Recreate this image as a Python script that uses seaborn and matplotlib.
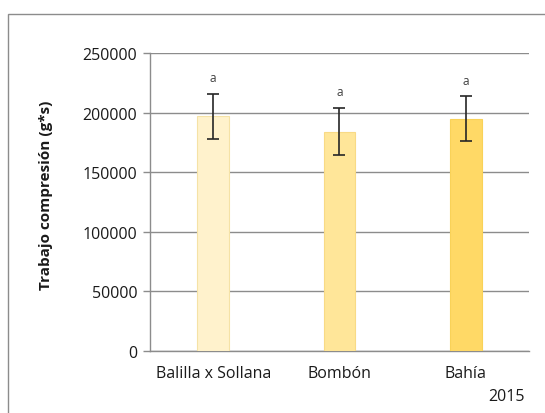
import matplotlib
matplotlib.use("Agg")
import matplotlib.pyplot as plt
import seaborn as sns
import pandas as pd
from matplotlib.patches import Rectangle

# Compression work per variety (2015)
varieties = ["Balilla x Sollana", "Bombón", "Bahía"]
work = [197000, 184000, 195000]
work_err = [19000, 20000, 18500]
letters = ["a", "a", "a"]
bar_colors = ["#FFF2CC", "#FFE699", "#FFD966"]
edge_colors = ["#F5E2A6", "#F8DA86", "#F9D258"]
y_ticks = [0, 50000, 100000, 150000, 200000, 250000]

sns.set_style("white")
plt.rcParams["font.family"] = ["Open Sans", "DejaVu Sans"]

df = pd.DataFrame({"variedad": varieties, "trabajo": work})

fig = plt.figure(figsize=(5.45, 4.14), dpi=100)
ax = fig.add_axes([0.2752, 0.1498, 0.6954, 0.7198])

sns.barplot(data=df, x="variedad", y="trabajo", hue="variedad",
            palette=bar_colors, saturation=1, width=0.25, legend=False,
            ax=ax, linewidth=0.8, zorder=3)
for patch, ec in zip(ax.patches, edge_colors):
    patch.set_edgecolor(ec)

ax.errorbar(range(len(varieties)), work, yerr=work_err, fmt="none",
            ecolor="#262626", elinewidth=1.2, capsize=4, capthick=1.2,
            zorder=4)
for i, (v, e, lab) in enumerate(zip(work, work_err, letters)):
    ax.text(i, v + e + 8000, lab, ha="center", va="bottom",
            fontsize=8.5, color="#404040")

ax.set_xlim(-0.5, 2.5)
ax.set_ylim(0, 250000)
ax.set_yticks(y_ticks)
ax.set_yticklabels([str(t) for t in y_ticks])
ax.yaxis.grid(True, color="#8c8c8c", linewidth=1, zorder=0)
ax.set_axisbelow(True)
for side in ["top", "right"]:
    ax.spines[side].set_visible(False)
for side in ["left", "bottom"]:
    ax.spines[side].set_color("#8c8c8c")
    ax.spines[side].set_linewidth(1)
ax.tick_params(axis="y", length=5, width=1, color="#8c8c8c",
               labelsize=11.5, labelcolor="#1a1a1a", pad=4, left=True)
ax.tick_params(axis="x", length=0, labelsize=11.5, labelcolor="#1a1a1a",
               pad=10)
ax.set_xlabel("")
ax.set_ylabel("Trabajo compresión (g*s)", fontsize=11, fontweight="bold",
              color="#1a1a1a")
ax.yaxis.set_label_coords(-0.256, 0.527)

fig.text(0.93, 0.022, "2015", ha="center", va="bottom", fontsize=11.5,
         color="#1a1a1a")

# chart-area frame
fig.patches.append(Rectangle((0.0147, -0.1), 1.2, 0.1 + 0.9638,
                             transform=fig.transFigure, fill=False,
                             edgecolor="#8c8c8c", linewidth=1))

fig.savefig("out.png", dpi=100)
